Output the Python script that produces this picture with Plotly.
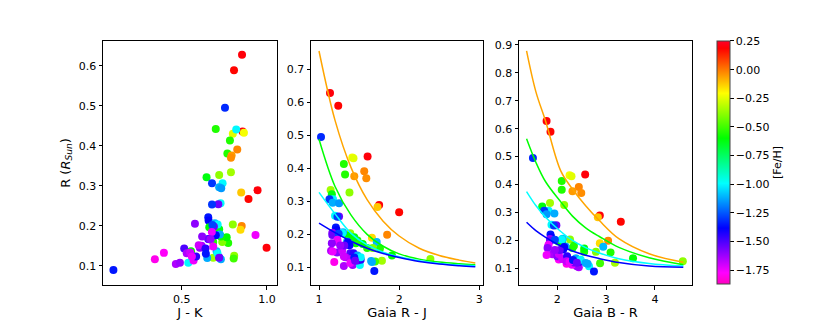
import plotly.graph_objects as go

# star table (None = not plotted in that panel)
radius = [0.628, 0.589, 0.495, 0.436, 0.433, 0.430, 0.413, 0.381, 0.391, 0.376,
          0.370, 0.442, 0.441, 0.334, 0.327, 0.321, 0.306, 0.306, 0.296, 0.294,
          0.289, 0.283, 0.267, 0.256, 0.254, 0.253, 0.221, 0.213, 0.205, 0.199,
          0.190, 0.203, 0.177, 0.177, 0.145, 0.116, 0.132, 0.104, 0.107, 0.107,
          0.143, 0.136, 0.125, 0.120, 0.118, 0.089, 0.157, 0.159, 0.159, 0.171,
          0.173, 0.181, 0.191, 0.196, 0.206, 0.203, 0.198, 0.202, 0.178, 0.167,
          0.176, 0.184, 0.173, 0.150, 0.145, 0.151, 0.166, 0.166, 0.131, 0.133,
          0.143, 0.125, 0.113, 0.121, 0.123, 0.123, 0.136, 0.131, 0.119, 0.116,
          0.130, 0.148, 0.120]
feh = [0.20, 0.18, -1.32, 0.20, -0.22, -0.25, -0.55, -0.55, -0.02, -0.05,
       -0.03, -0.55, -1.00, -0.35, -0.38, -0.62, -1.00, -1.30, -1.12, -1.15,
       0.20, -0.12, 0.18, -1.00, -1.55, -1.30, -1.35, -1.38, -1.60, -0.02,
       -0.15, -0.38, -1.10, -1.75, 0.20, -1.80, -1.78, -1.65, -1.62, -1.00,
       -1.50, -0.60, -0.38, -0.35, -0.50, -1.35, -0.55, -0.40, -0.55, -0.60,
       -0.58, -0.55, -0.62, -0.60, -1.10, -1.00, -1.55, -1.28, -1.12, -1.40,
       -1.38, -1.75, -1.60, -1.65, -1.60, -1.70, -1.55, -1.62, -1.65, -1.70,
       -1.45, -1.68, -1.75, -1.55, -1.45, -1.75, -1.12, -1.00, -1.12, -1.12,
       -1.35, -1.75, -1.55]
j_k = [0.854, 0.807, 0.754, 0.857, 0.865, 0.800, 0.783, 0.768, 0.826, 0.793,
       0.789, 0.700, 0.820, 0.789, 0.720, 0.646, 0.740, 0.678, 0.720, 0.732,
       0.945, 0.849, 0.892, 0.728, 0.715, 0.678, 0.656, 0.658, 0.578, 0.852,
       0.845, 0.800, 0.724, 0.933, 0.998, 0.343, 0.396, 0.466, 0.490, 0.539,
       0.515, 0.555, 0.808, 0.685, 0.805, 0.100, 0.773, 0.738, 0.685, 0.764,
       0.730, 0.700, 0.720, 0.662, 0.695, 0.711, 0.689, 0.680, 0.724, 0.656,
       0.700, 0.677, 0.620, 0.617, 0.607, 0.600, 0.660, 0.670, 0.530, 0.550,
       0.640, 0.560, 0.570, 0.720, 0.585, 0.560, 0.705, 0.710, 0.650, 0.730,
       0.642, 0.685, 0.720]
gaia_rj = [1.137, 1.240, 1.025, 1.606, 1.415, 1.430, 1.310, 1.325, 1.564, 1.440,
           1.590, None, None, 1.145, 1.380, 1.160, 1.175, 1.130, 1.170, 1.250,
           1.750, 1.730, 2.000, 1.200, 1.250, 1.230, 1.210, 1.220, 1.166, 1.850,
           1.660, 1.390, 1.720, 1.230, None, 1.190, 1.330, 1.310, 1.420, 1.510,
           1.390, 1.910, 2.390, 1.785, 1.700, 1.690, 1.760, 1.670, 1.600, 1.545,
           1.460, 1.480, 1.440, 1.360, 1.300, 1.290, 1.166, 1.245, 1.350, 1.380,
           1.360, 1.230, 1.160, 1.150, 1.225, 1.290, 1.315, 1.265, 1.330, 1.310,
           1.430, 1.400, 1.390, 1.480, 1.520, 1.450, 1.480, 1.520, 1.650, 1.660,
           1.440, 1.170, 1.450]
gaia_br = [1.78, 1.86, 1.50, 2.57, 2.25, 2.29, 2.09, 2.09, 2.44, 2.31,
           2.49, None, None, 1.85, 2.14, 1.69, 1.82, 1.73, 1.94, 1.78,
           2.87, 2.83, 3.30, 1.88, 1.98, 1.93, 1.86, 1.87, 1.85, 3.04,
           2.87, 2.26, 2.94, 1.81, None, 2.19, 2.03, 2.44, 2.40, 2.65,
           2.00, 3.55, 4.57, 3.18, 2.875, 2.75, 3.09, 2.79, 2.55, 2.55,
           2.31, 2.34, 2.10, 2.02, 2.11, 2.09, 1.85, 1.95, 2.17, 2.12,
           2.14, 1.82, 1.80, 1.90, 2.00, 2.03, 2.05, 1.95, 2.17, 2.10,
           2.20, 2.19, 2.30, 2.34, 2.44, 2.25, 2.38, 2.48, 2.58, 2.62,
           2.32, 1.78, 2.40]

# relation curves
curve_names = ["orange", "lime", "cyan", "blue"]
rj_x = [1.0, 1.2, 1.4, 1.6, 1.8, 2.0, 2.25, 2.5, 2.75, 2.95]
rj_curves = [
    [0.755, 0.545, 0.402, 0.305, 0.240, 0.195, 0.158, 0.136, 0.122, 0.113],
    [0.488, 0.345, 0.258, 0.200, 0.164, 0.141, 0.125, 0.116, 0.111, 0.108],
    [0.327, 0.262, 0.203, 0.168, 0.146, 0.132, 0.120, 0.112, 0.107, 0.105],
    [0.234, 0.205, 0.179, 0.158, 0.142, 0.130, 0.118, 0.110, 0.105, 0.102],
]
br_x = [1.37, 1.56, 1.76, 2.07, 2.31, 2.58, 2.86, 3.26, 3.88, 4.58]
br_curves = [
    [0.879, 0.733, 0.627, 0.449, 0.384, 0.324, 0.271, 0.206, 0.152, 0.122],
    [0.564, 0.480, 0.410, 0.338, 0.287, 0.245, 0.214, 0.175, 0.138, 0.113],
    [0.375, 0.325, 0.283, 0.232, 0.200, 0.174, 0.155, 0.134, 0.117, 0.108],
    [0.265, 0.235, 0.211, 0.180, 0.162, 0.147, 0.135, 0.121, 0.108, 0.104],
]

fe_ticks = [0.25, 0.0, -0.25, -0.5, -0.75, -1.0, -1.25, -1.5, -1.75]

# reversed gist_rainbow
cscale = [
    [0.0, "rgb(255,0,191)"], [0.046, "rgb(255,0,255)"], [0.23, "rgb(0,0,255)"],
    [0.414, "rgb(0,255,255)"], [0.6, "rgb(0,255,0)"], [0.785, "rgb(255,255,0)"],
    [0.97, "rgb(255,0,0)"], [1.0, "rgb(255,0,41)"],
]

FONT = "DejaVu Sans"
fig = go.Figure()

for xs, ax in [(j_k, "x"), (gaia_rj, "x2"), (gaia_br, "x3")]:
    fig.add_trace(go.Scatter(
        x=xs, y=radius, mode="markers", xaxis=ax, yaxis=ax.replace("x", "y"),
        marker=dict(size=8, color=feh, coloraxis="coloraxis", line=dict(width=0)),
        showlegend=False,
    ))

for c, ys in zip(curve_names, rj_curves):
    fig.add_trace(go.Scatter(x=rj_x, y=ys, mode="lines", xaxis="x2", yaxis="y2",
                             line=dict(color=c, width=1.5, shape="spline"), showlegend=False))
for c, ys in zip(curve_names, br_curves):
    fig.add_trace(go.Scatter(x=br_x, y=ys, mode="lines", xaxis="x3", yaxis="y3",
                             line=dict(color=c, width=1.5, shape="spline"), showlegend=False))

ax_style = dict(showline=True, linecolor="black", linewidth=1, mirror=True,
                ticks="outside", ticklen=3.5, tickwidth=1, tickcolor="black",
                showgrid=False, zeroline=False, tickfont=dict(size=11, color="black"))

ydom = [35 / 320, 281 / 320]
fig.update_layout(
    width=830, height=320, margin=dict(l=0, r=0, t=0, b=0),
    plot_bgcolor="white", paper_bgcolor="white",
    font=dict(family=FONT, size=11, color="black"),
    xaxis=dict(domain=[103 / 830, 277 / 830], range=[0.039, 1.059], tickvals=[0.5, 1.0],
               tickformat=".1f", title=dict(text="J - K", standoff=3), **ax_style),
    yaxis=dict(domain=ydom, range=[0.051, 0.663], dtick=0.1, tickformat=".1f",
               title=dict(text="R (<i>R</i><sub><i>Sun</i></sub>)", standoff=5), **ax_style),
    xaxis2=dict(domain=[311 / 830, 483 / 830], range=[0.90, 3.046], tickvals=[1, 2, 3],
                anchor="y2", title=dict(text="Gaia R - J", standoff=3), **ax_style),
    yaxis2=dict(domain=ydom, range=[0.046, 0.786], dtick=0.1, tickformat=".1f",
                anchor="x2", **ax_style),
    xaxis3=dict(domain=[519 / 830, 692 / 830], range=[1.215, 4.758], tickvals=[2, 3, 4],
                anchor="y3", title=dict(text="Gaia B - R", standoff=3), **ax_style),
    yaxis3=dict(domain=ydom, range=[0.0395, 0.915], dtick=0.1, tickformat=".1f",
                anchor="x3", **ax_style),
    coloraxis=dict(
        colorscale=cscale, cmin=-1.87, cmax=0.25,
        colorbar=dict(
            x=717 / 830, xanchor="left", xref="paper", xpad=0, ypad=0,
            y=(320 - (39 + 284) / 2) / 320, yanchor="middle",
            len=245 / 320, lenmode="fraction", thickness=13,
            outlinewidth=1, outlinecolor="#444", ticks="outside", ticklen=3.5,
            tickcolor="black", tickvals=fe_ticks, tickformat=".2f",
            tickfont=dict(size=11, color="black"),
            title=dict(text="[Fe/H]", side="right", font=dict(size=11)),
        ),
    ),
)

# remove the default page margin so the figure sits at the window origin
fig.write_html("out.html", config={"displayModeBar": False},
               post_script="document.body.style.margin='0';")
